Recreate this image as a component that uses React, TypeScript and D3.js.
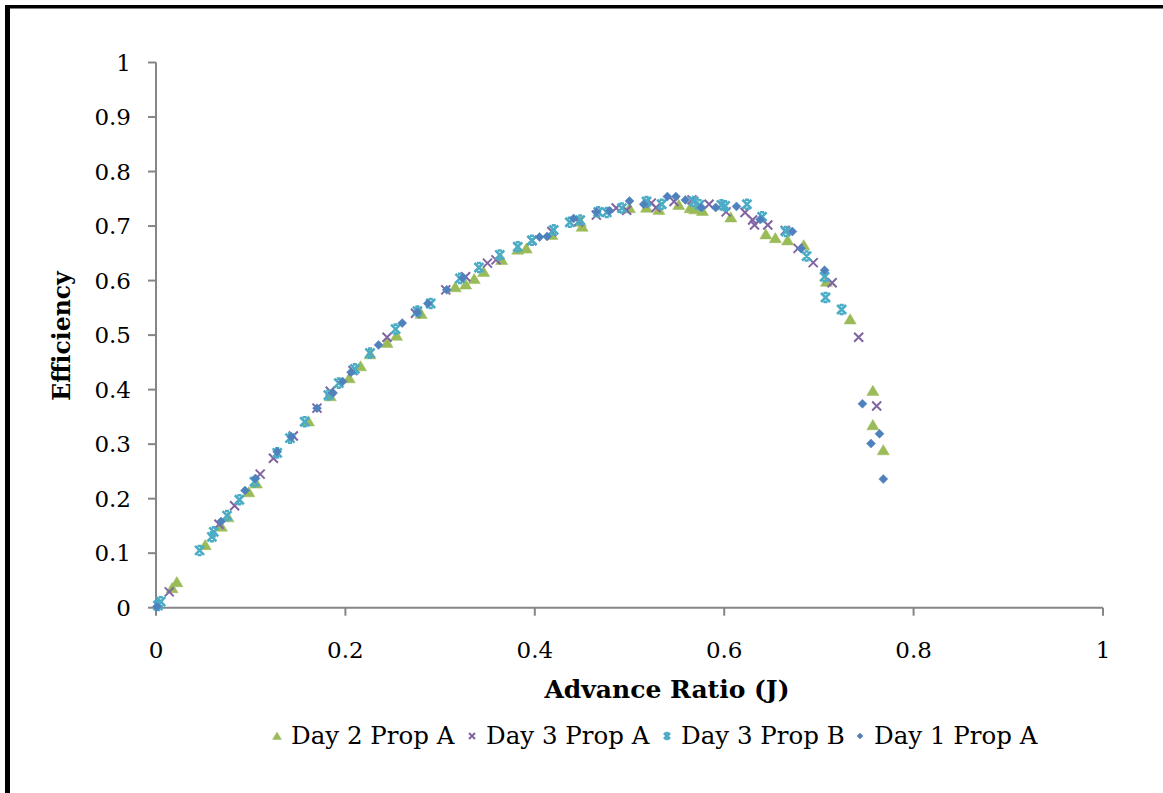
import React from "react";
import * as d3 from "d3";

const xTicks = [0, 0.2, 0.4, 0.6, 0.8, 1];
const yTicks = [0, 0.1, 0.2, 0.3, 0.4, 0.5, 0.6, 0.7, 0.8, 0.9, 1];

const day2PropA: [number, number][] = [
  [0.017, 0.036], [0.022, 0.047], [0.052, 0.115], [0.069, 0.149], [0.076, 0.166],
  [0.098, 0.212], [0.106, 0.228], [0.161, 0.342], [0.184, 0.388], [0.204, 0.421],
  [0.216, 0.443], [0.226, 0.465], [0.244, 0.486], [0.254, 0.499], [0.280, 0.539],
  [0.316, 0.588], [0.327, 0.593], [0.336, 0.603], [0.346, 0.616], [0.365, 0.638],
  [0.382, 0.657], [0.391, 0.659], [0.418, 0.684], [0.448, 0.708], [0.450, 0.699],
  [0.500, 0.733], [0.518, 0.734], [0.531, 0.730], [0.552, 0.739], [0.564, 0.733],
  [0.569, 0.731], [0.577, 0.728], [0.607, 0.716], [0.644, 0.685], [0.654, 0.678],
  [0.667, 0.674], [0.684, 0.665], [0.708, 0.598], [0.733, 0.529], [0.757, 0.398],
  [0.757, 0.335], [0.768, 0.289],
];

const day3PropA: [number, number][] = [
  [0.014, 0.029], [0.0665, 0.153], [0.083, 0.187], [0.110, 0.245], [0.124, 0.274],
  [0.145, 0.315], [0.170, 0.366], [0.184, 0.397], [0.208, 0.435], [0.226, 0.467],
  [0.244, 0.496], [0.274, 0.540], [0.306, 0.583], [0.327, 0.607], [0.350, 0.632],
  [0.359, 0.638], [0.397, 0.673], [0.418, 0.690], [0.446, 0.708], [0.465, 0.720],
  [0.486, 0.733], [0.497, 0.729], [0.523, 0.742], [0.528, 0.734], [0.547, 0.745],
  [0.566, 0.748], [0.584, 0.740], [0.602, 0.726], [0.622, 0.725], [0.630, 0.711],
  [0.632, 0.702], [0.646, 0.702], [0.6645, 0.692], [0.678, 0.659], [0.694, 0.633],
  [0.714, 0.596], [0.742, 0.496], [0.761, 0.370],
];

const day3PropB: [number, number][] = [
  [0.002, 0.004], [0.005, 0.011], [0.046, 0.105], [0.059, 0.130], [0.061, 0.139],
  [0.075, 0.169], [0.088, 0.198], [0.104, 0.231], [0.128, 0.284], [0.1415, 0.311],
  [0.157, 0.341], [0.182, 0.390], [0.193, 0.412], [0.210, 0.438], [0.226, 0.467],
  [0.253, 0.511], [0.276, 0.544], [0.290, 0.558], [0.321, 0.604], [0.341, 0.624],
  [0.363, 0.647], [0.382, 0.662], [0.397, 0.674], [0.420, 0.693], [0.437, 0.707],
  [0.448, 0.711], [0.467, 0.726], [0.476, 0.725], [0.492, 0.733], [0.518, 0.745],
  [0.534, 0.740], [0.568, 0.745], [0.574, 0.739], [0.597, 0.739], [0.601, 0.737],
  [0.624, 0.740], [0.640, 0.717], [0.665, 0.690], [0.687, 0.645], [0.706, 0.607],
  [0.707, 0.569], [0.724, 0.547],
];

const day1PropA: [number, number][] = [
  [0.001, 0.002], [0.0686, 0.158], [0.094, 0.215], [0.105, 0.237], [0.128, 0.286],
  [0.143, 0.313], [0.170, 0.366], [0.187, 0.394], [0.197, 0.415], [0.206, 0.432],
  [0.235, 0.482], [0.260, 0.522], [0.276, 0.542], [0.287, 0.558], [0.307, 0.583],
  [0.324, 0.605], [0.405, 0.680], [0.413, 0.681], [0.441, 0.714], [0.465, 0.726],
  [0.479, 0.728], [0.500, 0.746], [0.515, 0.740], [0.540, 0.754], [0.549, 0.754],
  [0.559, 0.748], [0.576, 0.734], [0.591, 0.734], [0.613, 0.736], [0.638, 0.712],
  [0.672, 0.690], [0.681, 0.659], [0.706, 0.619], [0.746, 0.374], [0.764, 0.319],
  [0.755, 0.301], [0.768, 0.236],
];

const seriesNames = ["Day 2 Prop A", "Day 3 Prop A", "Day 3 Prop B", "Day 1 Prop A"];
const seriesColors = ["#9BBB59", "#8064A2", "#4BACC6", "#4F81BD"];
const seriesShapes = ["triangle", "x", "star", "diamond"];
const seriesData = [day2PropA, day3PropA, day3PropB, day1PropA];

const FONT = "'DejaVu Serif', serif";

function markerPath(shape: string, s: number): string {
  const h = s / 2;
  if (shape === "triangle") {
    return `M0,${-h}L${h * 1.1},${h * 0.85}L${-h * 1.1},${h * 0.85}Z`;
  }
  if (shape === "diamond") {
    return `M0,${-h}L${h},0L0,${h}L${-h},0Z`;
  }
  if (shape === "x") {
    return `M${-h},${-h}L${h},${h}M${h},${-h}L${-h},${h}`;
  }
  // star: X with short caps
  return `M${-h},${-h}L${h},${h}M${h},${-h}L${-h},${h}M${-h * 0.45},${-h}L${h * 0.45},${-h}M${-h * 0.45},${h}L${h * 0.45},${h}`;
}

function Marker({ shape, color, x, y, size }: { shape: string; color: string; x: number; y: number; size: number }) {
  const filled = shape === "triangle" || shape === "diamond";
  return (
    <path
      d={markerPath(shape, size)}
      transform={`translate(${x},${y})`}
      fill={filled ? color : "none"}
      stroke={color}
      strokeWidth={filled ? 0.5 : shape === "star" ? 2.6 : 2}
    />
  );
}

export default function App() {
  const W = 1163;
  const H = 793;
  const x = d3.scaleLinear().domain([0, 1]).range([156, 1103]);
  const y = d3.scaleLinear().domain([0, 1]).range([607.7, 62.5]);
  const axisColor = "#868686";
  const sizes = [11, 9, 9, 9];
  const legendSizes = [8, 6, 6, 6];
  const legendX = [277, 472, 667, 860];

  return (
    <svg
      width={W}
      height={H}
      style={{ position: "absolute", left: 0, top: 0, background: "#fff" }}
    >
      <rect x={0} y={0} width={W} height={H} fill="#fff" />
      {/* frame */}
      <rect x={5} y={5} width={W - 5} height={3.5} fill="#000" />
      <rect x={5} y={5} width={5} height={H - 5} fill="#000" />

      {/* axes */}
      <line x1={x(0)} x2={x(1)} y1={y(0)} y2={y(0)} stroke={axisColor} strokeWidth={2} />
      <line x1={x(0)} x2={x(0)} y1={y(0)} y2={y(1)} stroke={axisColor} strokeWidth={2} />
      {xTicks.map((t) => (
        <g key={"xt" + t}>
          <line x1={x(t)} x2={x(t)} y1={y(0)} y2={y(0) + 8} stroke={axisColor} strokeWidth={2} />
          <text
            x={x(t)}
            y={y(0) + 50}
            textAnchor="middle"
            fontFamily={FONT}
            fontSize={23}
            fill="#000"
          >
            {d3.format("~g")(t)}
          </text>
        </g>
      ))}
      {yTicks.map((t) => (
        <g key={"yt" + t}>
          <line x1={x(0) - 8} x2={x(0)} y1={y(t)} y2={y(t)} stroke={axisColor} strokeWidth={2} />
          <text
            x={131}
            y={y(t)}
            dy="0.36em"
            textAnchor="end"
            fontFamily={FONT}
            fontSize={23}
            fill="#000"
          >
            {d3.format("~g")(t)}
          </text>
        </g>
      ))}

      {/* axis titles */}
      <text
        x={667}
        y={698}
        textAnchor="middle"
        fontFamily={FONT}
        fontWeight="bold"
        fontSize={25}
        fill="#000"
      >
        Advance Ratio (J)
      </text>
      <text
        transform={`translate(70,336) rotate(-90)`}
        textAnchor="middle"
        fontFamily={FONT}
        fontWeight="bold"
        fontSize={23.5}
        fill="#000"
      >
        Efficiency
      </text>

      {/* data */}
      {seriesData.map((data, si) => (
        <g key={"s" + si}>
          {data.map((d, i) => (
            <Marker
              key={i}
              shape={seriesShapes[si]}
              color={seriesColors[si]}
              x={x(d[0])}
              y={y(d[1])}
              size={sizes[si]}
            />
          ))}
        </g>
      ))}

      {/* legend */}
      {seriesNames.map((name, i) => {
        const lx = legendX[i];
        return (
          <g key={"lg" + i}>
            <Marker shape={seriesShapes[i]} color={seriesColors[i]} x={lx} y={736} size={legendSizes[i]} />
            <text x={lx + 14} y={744} fontFamily={FONT} fontSize={24.5} fill="#000">
              {name}
            </text>
          </g>
        );
      })}
    </svg>
  );
}
